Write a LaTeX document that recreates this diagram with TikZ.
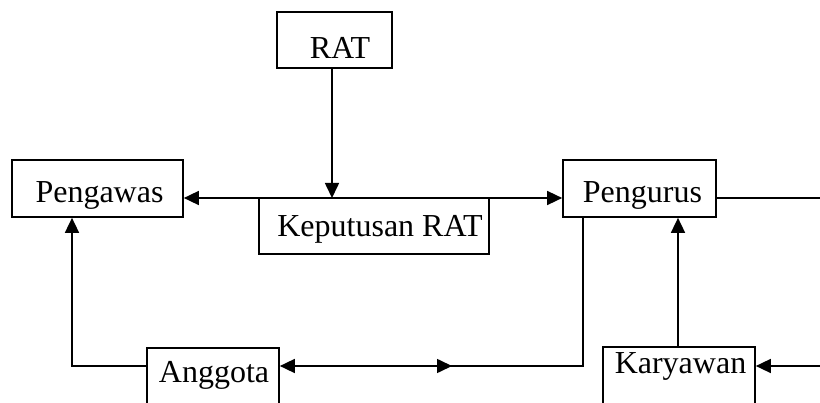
\documentclass[tikz,border=0pt]{standalone}
\usepackage{fontspec}
\setmainfont{Liberation Serif}
\usetikzlibrary{arrows.meta}
\begin{document}
\begin{tikzpicture}[x=1pt,y=-1pt,
  box/.style={draw,line width=1.7pt,minimum width=#1,inner sep=0pt,rectangle},
  lbl/.style={anchor=base,inner sep=0pt,font=\fontsize{32}{38}\selectfont},
  conn/.style={line width=1.6pt},
  arr/.style={conn,-{Triangle[length=15pt,width=14pt]}},
  arrb/.style={conn,{Triangle[length=15pt,width=14pt]}-{Triangle[length=15pt,width=14pt]}}]
\clip (0,0) rectangle (820,403);
\fill[white] (0,0) rectangle (820,403);
% boxes
\node[box=115pt,minimum height=56pt] (rat) at (334.5,40) {};
\node[box=171pt,minimum height=57pt] (pengawas) at (97.5,188.5) {};
\node[box=230pt,minimum height=56pt] (kep) at (374,226) {};
\node[box=153pt,minimum height=57pt] (pengurus) at (639.5,188.5) {};
\node[box=132pt,minimum height=72pt] (anggota) at (213,384) {};
\node[box=152pt,minimum height=72pt] (karyawan) at (679,383) {};
% labels
\node[lbl] (rat-t) at (340,59) {RAT};
\node[lbl] (pengawas-t) at (99.5,203) {Pengawas};
\node[lbl] (kep-t) at (380,237) {Keputusan RAT};
\node[lbl] (pengurus-t) at (642.5,203) {Pengurus};
\node[lbl] (anggota-t) at (214,383) {Anggota};
\node[lbl] (karyawan-t) at (680.5,374) {Karyawan};
% coordinates
\coordinate (j) at (332,198);
\coordinate (r1) at (820,198);
\coordinate (pd) at (583,366);
\coordinate (m) at (452,366);
\coordinate (m0) at (420,366);
\coordinate (lc) at (72,366);
\coordinate (kx) at (678,300);
\coordinate (r2) at (820,366);
% connectors
\draw[arr] (rat.south -| j) -- (j);
\draw[arrb] (pengawas.east |- j) -- (pengurus.west |- j);
\draw[conn] (pengurus.east |- j) -- (r1);
\draw[arr] (pengurus.south -| pd) -- (pd) -- (anggota.east |- pd);
\draw[arr] (m0) -- (m);
\draw[arr] (anggota.west |- lc) -- (lc) -- (pengawas.south -| lc);
\draw[arr] (karyawan.north -| kx) -- (pengurus.south -| kx);
\draw[arr] (r2) -- (karyawan.east |- r2);
\end{tikzpicture}
\end{document}
